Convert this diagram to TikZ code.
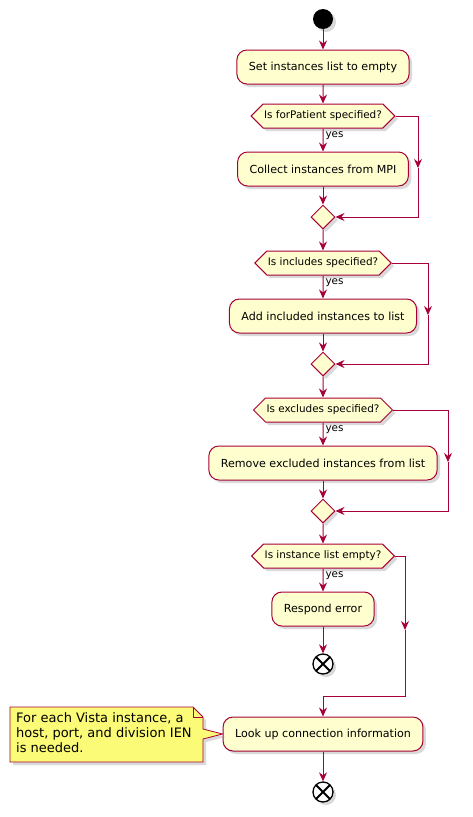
\documentclass[tikz,border=0pt]{standalone}
\usepackage{fontspec}
\setmainfont{DejaVu Sans}
\usetikzlibrary{arrows.meta,shapes.geometric,shapes.symbols,shadows,calc}
\definecolor{umlred}{HTML}{A80036}
\definecolor{umlfill}{HTML}{FEFECE}
\definecolor{notefill}{HTML}{FBFB77}

\begin{document}
\begin{tikzpicture}[x=1pt,y=-1pt,
    shade/.style={drop shadow={opacity=0.3,shadow xshift=3pt,shadow yshift=-3pt}},
    flow/.style={draw=umlred, line width=1pt, -{Stealth[length=9pt,width=8pt,inset=3pt]}},
    act/.style={draw=umlred, fill=umlfill, line width=1pt, rounded corners=10pt,
      minimum height=34pt, inner xsep=12pt, font=\fontsize{11.1}{13}\selectfont, shade},
    test/.style={signal, signal to=east and west, signal pointer angle=90, draw=umlred,
      fill=umlfill, line width=1pt, minimum height=24pt, inner xsep=1pt,
      font=\fontsize{10.4}{12}\selectfont, shade},
    merge/.style={diamond, draw=umlred, fill=umlfill, line width=1pt, minimum size=24pt,
      inner sep=0pt, shade},
    stop/.style={circle, draw=black, fill=white, line width=1.3pt, minimum size=20pt,
      inner sep=0pt, shade, path picture={
        \draw[line width=1.8pt] (path picture bounding box.north west) -- (path picture bounding box.south east)
          (path picture bounding box.north east) -- (path picture bounding box.south west);}},
    yes/.style={anchor=north west, inner sep=1pt, xshift=1pt, yshift=-2pt,
      font=\fontsize{10.4}{12}\selectfont},
  ]
  \useasboundingbox (0,0) rectangle (473,817);

  \node (start) [circle, fill=black, minimum size=20pt, inner sep=0pt, shade] at (323,19) {};
  \node (empty) [act] at (323,67) {Set instances list to empty};
  \node (qpat) [test] at (323,116) {Is forPatient specified?};
  \node (mpi) [act] at (323,169) {Collect instances from MPI};
  \node (m1) [merge] at (323,217) {};

  \node (qinc) [test] at (323,263) {Is includes specified?};
  \node (inc) [act] at (323,316) {Add included instances to list};
  \node (m2) [merge] at (323,364) {};

  \node (qexc) [test] at (323,410) {Is excludes specified?};
  \node (exc) [act] at (323,463) {Remove excluded instances from list};
  \node (m3) [merge] at (323,511) {};

  \node (qempty) [test] at (323,556) {Is instance list empty?};
  \node (err) [act] at (323,609) {Respond error};
  \node (end1) [stop] at (323,664) {};

  \node (look) [act] at (323,734) {Look up connection information};
  \node (end2) [stop] at (323,792) {};

  % side branches
  \coordinate (r1) at (418,168);
  \coordinate (r2) at (428,315);
  \coordinate (r3) at (448,462);
  \coordinate (r4) at (405,630);
  \coordinate (j4) at (405,696);

  \draw[flow] (start) -- (empty);
  \draw[flow] (empty) -- (qpat);
  \draw[flow] (qpat) -- node[yes, pos=0] {yes} (mpi);
  \draw[flow] (mpi) -- (m1);
  \draw[flow] (qpat.east) -| (r1);
  \draw[flow] (r1) |- (m1.east);

  \draw[flow] (m1) -- (qinc);
  \draw[flow] (qinc) -- node[yes, pos=0] {yes} (inc);
  \draw[flow] (inc) -- (m2);
  \draw[flow] (qinc.east) -| (r2);
  \draw[flow] (r2) |- (m2.east);

  \draw[flow] (m2) -- (qexc);
  \draw[flow] (qexc) -- node[yes, pos=0] {yes} (exc);
  \draw[flow] (exc) -- (m3);
  \draw[flow] (qexc.east) -| (r3);
  \draw[flow] (r3) |- (m3.east);

  \draw[flow] (m3) -- (qempty);
  \draw[flow] (qempty) -- node[yes, pos=0] {yes} (err);
  \draw[flow] (err) -- (end1);
  \draw[flow] (qempty.east) -| (r4);
  \draw[flow] (r4) -- (j4) -| (look.north);
  \draw[flow] (look) -- (end2);

  % note
  \draw[umlred, fill=notefill, line width=0.8pt, shade]
    (10,707) -- (193,707) -- (203,717) -- (203,729) -- (look.west)
    -- (203,739) -- (203,762) -- (10,762) -- cycle;
  \draw[umlred, line width=0.8pt] (193,707) -- (193,717) -- (203,717);
  \node (note) [anchor=north west, align=left, inner sep=0pt,
    font=\fontsize{13}{15}\selectfont] at (16,712)
    {For each Vista instance, a\\host, port, and division IEN\\is needed.};
\end{tikzpicture}
\end{document}
